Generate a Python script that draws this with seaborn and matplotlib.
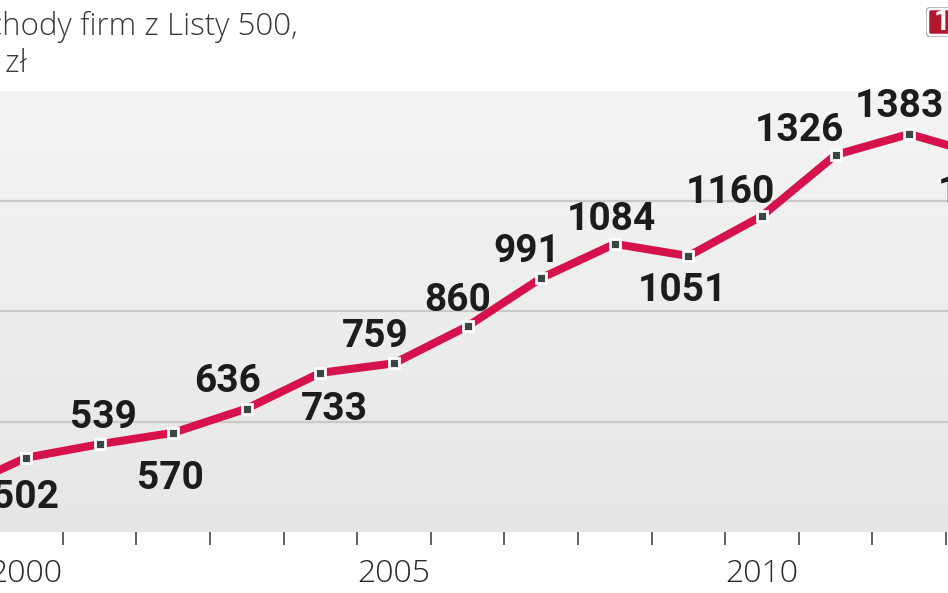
import numpy as np
import pandas as pd
import matplotlib.pyplot as plt
import seaborn as sns
from matplotlib.colors import LinearSegmentedColormap
from matplotlib.patches import FancyBboxPatch
from matplotlib.transforms import IdentityTransform

# Przychody firm z Listy 500, w mld zł
years = [1999, 2000, 2001, 2002, 2003, 2004, 2005, 2006, 2007, 2008, 2009, 2010, 2011, 2012, 2013]
revenue = [410, 502, 539, 570, 636, 733, 759, 860, 991, 1084, 1051, 1160, 1326, 1383, 1325]
year_labels = [2000, 2005, 2010]
grid_values = [600, 900, 1200]

# where each value label sits relative to its point (pixels)
label_dx = [0, 0, 4, -3, -19, 14, -19, -10, -14, -3, -6, -32, -36, -10, 0]
label_dy = [-48, -50, 16, -56, 17, -47, 16, 15, 16, 14, -45, 13, 14, 17, -48]

sns.set_style("white")
plt.rcParams['font.family'] = ['Roboto', 'DejaVu Sans']

fig = plt.figure(figsize=(9.48, 5.93), dpi=100)
ax = fig.add_axes([0, 61 / 593, 1, 441 / 593])

# soft grey gradient behind the plot
bg = LinearSegmentedColormap.from_list("bg", ["#e6e6e6", "#f4f4f4"])
ax.imshow(np.linspace(0, 1, 256).reshape(-1, 1), extent=[0, 1, 0, 1], transform=ax.transAxes,
          cmap=bg, aspect='auto', origin='lower', zorder=0)

sns.lineplot(x=years, y=revenue, ax=ax, color='#d5124b', lw=5.8, marker='s', markersize=7,
             markerfacecolor='#3b4742', markeredgecolor='white', markeredgewidth=2,
             solid_joinstyle='round', zorder=3)

for yr, v, dx, dy in zip(years, revenue, label_dx, label_dy):
    ax.annotate(str(v), (yr, v), xytext=(dx, dy), textcoords='offset pixels',
                ha='center', va='baseline', fontsize=28, fontweight='bold',
                color='#1c1c1c', zorder=4, annotation_clip=False)

ax.set_yticks(grid_values)
ax.set_yticklabels([])
ax.grid(axis='y', color='#c9c9c9', lw=1.6)
ax.set_axisbelow(True)
ax.set_xticks(year_labels)
ax.set_xticklabels([str(y) for y in year_labels], fontsize=23, fontweight='light',
                   family=['Open Sans', 'DejaVu Sans'], color='#2a2a2a')
ax.set_xticks([y + 0.5 for y in range(2000, 2013)], minor=True)
ax.tick_params(axis='x', which='major', bottom=True, length=0, pad=19)
ax.tick_params(axis='x', which='minor', bottom=True, length=9, width=1.3,
               color='#555555', direction='out')
ax.tick_params(axis='y', length=0)
for s in ax.spines.values():
    s.set_visible(False)
ax.set_xlim(2000 - 26 / 73.6, 2000 + 922 / 73.6)
ax.set_ylim(300, 1500)

fig.text(298 / 948, 1 - 35 / 593, "Przychody firm z Listy 500,", ha='right', va='baseline',
         fontsize=22.5, fontweight='light', family=['Open Sans', 'DejaVu Sans'], color='#3a3a3a')
fig.text(27 / 948, 1 - 72 / 593, "w mld zł", ha='right', va='baseline',
         fontsize=22.5, fontweight='light', family=['Open Sans', 'DejaVu Sans'], color='#3a3a3a')

# red badge in the corner
fig.add_artist(FancyBboxPatch((926, 556), 46, 30, boxstyle='round,pad=0,rounding_size=4',
                              fc='#a8a8a8', ec='none', transform=IdentityTransform()))
fig.add_artist(FancyBboxPatch((928, 558), 42, 26, boxstyle='round,pad=0,rounding_size=3',
                              fc='#b3172e', ec='white', lw=1.8, transform=IdentityTransform()))
fig.text(934 / 948, 1 - 22 / 593, "1", ha='left', va='center', fontsize=21,
         fontweight='bold', color='white')

fig.savefig("out.png", dpi=100)
